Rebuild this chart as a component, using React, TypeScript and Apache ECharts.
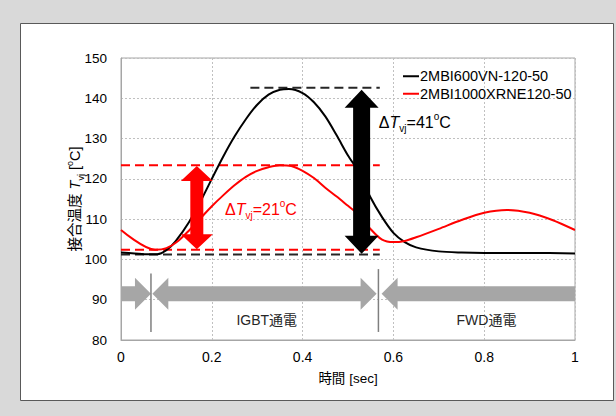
import React, { useEffect, useRef } from 'react';
import * as echarts from 'echarts';

const seriesNames = ['2MBI600VN-120-50', '2MBI1000XRNE120-50'];

const blackData: number[][] = [
  [0, 101.7], [0.03, 101.5], [0.06, 101.3], [0.08, 101.3], [0.1, 102.3], [0.12, 104.5],
  [0.15, 109.3], [0.18, 115.5], [0.2, 120], [0.225, 125.5], [0.25, 130.5], [0.275, 134.8],
  [0.3, 138.4], [0.325, 140.9], [0.35, 142.1], [0.37, 142.3], [0.4, 141.3], [0.425, 139.0],
  [0.45, 135.5], [0.475, 130.8], [0.5, 125.8], [0.525, 121.5], [0.55, 115.3], [0.575, 110.5],
  [0.6, 106.6], [0.625, 104.3], [0.65, 103.0], [0.7, 102.0], [0.75, 101.7], [0.8, 101.6],
  [0.9, 101.6], [1, 101.5],
];

const redData: number[][] = [
  [0, 107.3], [0.075, 102.4], [0.1, 102.8], [0.125, 104.5], [0.15, 107.2], [0.175, 110.2],
  [0.2, 113.2], [0.225, 115.9], [0.25, 118.4], [0.275, 120.5], [0.3, 122], [0.325, 122.9],
  [0.35, 123.4], [0.375, 123.2], [0.4, 122], [0.425, 120.2], [0.45, 117.8], [0.475, 115.6],
  [0.5, 113.3], [0.525, 111.0], [0.55, 107.5], [0.575, 104.9], [0.6, 104.3], [0.625, 104.6],
  [0.65, 105.5], [0.7, 107.6], [0.75, 109.8], [0.8, 111.6], [0.85, 112.3], [0.9, 111.6],
  [0.95, 109.8], [1, 107.3],
];

// dashed reference lines
const blackDashTop = [[0.285, 142.6], [0.57, 142.6]];
const redDashTop = [[0, 123.4], [0.57, 123.4]];
const redDashBottom = [[0, 102.4], [0.57, 102.4]];
const blackDashBottom = [[0, 101.2], [0.57, 101.2]];

// vertical double arrows: [x, yTop, yBottom]
const deltaArrows = [[0.167, 123.2, 102.5], [0.53, 142.1, 101.4]];
const deltaColors = ['#ff0000', '#000000'];
// delta labels: [x, y]
const deltaLabelPos = [[0.229, 112.3], [0.568, 133.9]];
const deltaValues = ['21', '41'];

// horizontal phase arrows: [xStart, xEnd, y, kind] kind 1=tip right, 2=both, 3=tip left
const phaseArrows = [[0, 0.066, 91.5, 1], [0.069, 0.563, 91.5, 2], [0.574, 1, 91.5, 3]];
// separators: [x, yTop, yBottom]
const separators = [[0.066, 96.5, 82], [0.567, 97.6, 82]];
// phase labels
const phaseLabelPos = [[0.321, 85], [0.805, 85]];
const phaseLabels = ['IGBT通電', 'FWD通電'];

const FONT = '"Liberation Sans", "Noto Sans CJK JP", Arial, sans-serif';

export default function App() {
  const ref = useRef<HTMLDivElement>(null);
  useEffect(() => {
    if (!ref.current) return;
    const chart = echarts.init(ref.current, undefined, { renderer: 'svg' });
    const dashLine = (data: number[][], color: string) => ({
      type: 'line',
      data,
      showSymbol: false,
      silent: true,
      z: 3,
      lineStyle: { color, width: 2, type: [9, 5] },
    });
    chart.setOption({
      animation: false,
      backgroundColor: '#d9d9d9',
      textStyle: { fontFamily: FONT },
      graphic: [
        {
          type: 'rect',
          z: -10,
          shape: { x: 20.5, y: 23.5, width: 593, height: 377 },
          style: { fill: '#ffffff', stroke: '#595959', lineWidth: 1 },
        },
      ],
      grid: {
        left: 121, right: 41, top: 58, bottom: 76,
        show: true, borderColor: '#a6a6a6', borderWidth: 1, backgroundColor: 'transparent',
      },
      legend: {
        orient: 'vertical',
        left: 398,
        top: 64,
        itemGap: 3,
        itemWidth: 16,
        itemHeight: 2,
        textStyle: { fontSize: 14.5, color: '#000', fontFamily: FONT, padding: [0, 0, 0, -4] },
        data: [
          { name: seriesNames[0], icon: 'rect' },
          { name: seriesNames[1], icon: 'rect' },
        ],
      },
      xAxis: {
        type: 'value', min: 0, max: 1, interval: 0.2,
        name: '時間 [sec]', nameLocation: 'middle', nameGap: 32,
        nameMoveOverlap: false,
        nameTextStyle: { fontSize: 13.5, color: '#000', fontFamily: FONT },
        axisLine: { show: true, lineStyle: { color: '#a6a6a6' } },
        axisTick: { show: false },
        axisLabel: { fontSize: 14, color: '#000', margin: 10, fontFamily: FONT },
        splitLine: { show: true, lineStyle: { color: '#c0c0c0', type: [2, 2] } },
      },
      yAxis: {
        type: 'value', min: 80, max: 150, interval: 10,
        name: '{n|接合温度 }{i|T}{s|vj}{n| [}{p|o}{n|C]}',
        nameLocation: 'middle', nameGap: 36,
        nameMoveOverlap: false,
        nameTextStyle: {
          fontSize: 14, color: '#000', fontFamily: FONT,
          rich: {
            n: { fontSize: 14.5, lineHeight: 20, fontFamily: FONT },
            i: { fontSize: 14.5, lineHeight: 20, fontStyle: 'italic', fontFamily: FONT },
            s: { fontSize: 9, lineHeight: 9, verticalAlign: 'bottom', fontFamily: FONT },
            p: { fontSize: 9, lineHeight: 9, verticalAlign: 'top', fontFamily: FONT },
          },
        },
        axisLine: { show: true, lineStyle: { color: '#a6a6a6' } },
        axisTick: { show: false },
        axisLabel: { fontSize: 13.5, color: '#000', margin: 14, fontFamily: FONT },
        splitLine: { show: true, lineStyle: { color: '#c0c0c0', type: [2, 2] } },
      },
      series: [
        {
          name: seriesNames[0], type: 'line', data: blackData, showSymbol: false,
          smooth: 0.3, z: 4, color: '#000000', lineStyle: { color: '#000000', width: 2 },
        },
        {
          name: seriesNames[1], type: 'line', data: redData, showSymbol: false,
          smooth: 0.3, z: 4, color: '#ff0000', lineStyle: { color: '#ff0000', width: 2 },
        },
        dashLine(blackDashTop, '#262626'),
        dashLine(redDashTop, '#ff0000'),
        dashLine(redDashBottom, '#ff0000'),
        dashLine(blackDashBottom, '#262626'),
        {
          type: 'custom', z: 6, silent: true,
          data: deltaArrows,
          encode: { x: 0, y: [1, 2] },
          renderItem: (params: any, api: any) => {
            const i = params.dataIndex;
            const t = api.coord([api.value(0), api.value(1)]);
            const b = api.coord([api.value(0), api.value(2)]);
            const cx = t[0];
            const sw = i === 0 ? 6.5 : 8.5;
            const hw = i === 0 ? 16 : 17;
            const hl = i === 0 ? 15 : 18;
            const yT = t[1];
            const yB = b[1];
            return {
              type: 'polygon',
              shape: {
                points: [
                  [cx, yT], [cx + hw, yT + hl], [cx + sw, yT + hl], [cx + sw, yB - hl],
                  [cx + hw, yB - hl], [cx, yB], [cx - hw, yB - hl], [cx - sw, yB - hl],
                  [cx - sw, yT + hl], [cx - hw, yT + hl],
                ],
              },
              style: { fill: deltaColors[i] },
            };
          },
        },
        {
          type: 'custom', z: 7, silent: true,
          data: deltaLabelPos,
          encode: { x: 0, y: 1 },
          renderItem: (params: any, api: any) => {
            const i = params.dataIndex;
            const p = api.coord([api.value(0), api.value(1)]);
            const c = deltaColors[i];
            return {
              type: 'text',
              x: p[0], y: p[1],
              style: {
                text: `{d|Δ}{i|T}{s|vj}{n|=${deltaValues[i]}}{p|o}{n|C}`,
                fill: c,
                align: 'left',
                verticalAlign: 'middle',
                rich: {
                  d: { fontSize: 16, lineHeight: 22, fill: c, fontFamily: FONT },
                  i: { fontSize: 16, lineHeight: 22, fill: c, fontStyle: 'italic', fontFamily: FONT },
                  s: { fontSize: 10, lineHeight: 10, fill: c, verticalAlign: 'bottom', fontFamily: FONT },
                  n: { fontSize: 16, lineHeight: 22, fill: c, fontFamily: FONT },
                  p: { fontSize: 10, lineHeight: 10, fill: c, verticalAlign: 'top', fontFamily: FONT },
                },
              },
            };
          },
        },
        {
          type: 'custom', z: 5, silent: true,
          data: phaseArrows,
          encode: { x: [0, 1], y: 2 },
          renderItem: (params: any, api: any) => {
            const a = api.coord([api.value(0), api.value(2)]);
            const b = api.coord([api.value(1), api.value(2)]);
            const kind = api.value(3);
            const y = a[1];
            const sh = 7.5, hh = 16, hl = 16;
            const x0 = a[0], x1 = b[0];
            let pts: number[][];
            if (kind === 1) {
              pts = [[x0, y - sh], [x1 - hl, y - sh], [x1 - hl, y - hh], [x1, y], [x1 - hl, y + hh], [x1 - hl, y + sh], [x0, y + sh]];
            } else if (kind === 3) {
              pts = [[x1, y - sh], [x0 + hl, y - sh], [x0 + hl, y - hh], [x0, y], [x0 + hl, y + hh], [x0 + hl, y + sh], [x1, y + sh]];
            } else {
              pts = [[x0, y], [x0 + hl, y - hh], [x0 + hl, y - sh], [x1 - hl, y - sh], [x1 - hl, y - hh], [x1, y],
                [x1 - hl, y + hh], [x1 - hl, y + sh], [x0 + hl, y + sh], [x0 + hl, y + hh]];
            }
            return { type: 'polygon', shape: { points: pts }, style: { fill: '#a6a6a6' } };
          },
        },
        {
          type: 'custom', z: 6, silent: true,
          data: separators,
          encode: { x: 0, y: [1, 2] },
          renderItem: (params: any, api: any) => {
            const t = api.coord([api.value(0), api.value(1)]);
            const b = api.coord([api.value(0), api.value(2)]);
            return {
              type: 'line',
              shape: { x1: t[0], y1: t[1], x2: b[0], y2: b[1] },
              style: { stroke: '#7f7f7f', lineWidth: 1.5 },
            };
          },
        },
        {
          type: 'custom', z: 6, silent: true,
          data: phaseLabelPos,
          encode: { x: 0, y: 1 },
          renderItem: (params: any, api: any) => {
            const p = api.coord([api.value(0), api.value(1)]);
            return {
              type: 'text',
              x: p[0], y: p[1],
              style: {
                text: phaseLabels[params.dataIndex],
                fill: '#262626',
                fontSize: 14,
                fontFamily: FONT,
                align: 'center',
                verticalAlign: 'middle',
              },
            };
          },
        },
      ],
    });
    return () => chart.dispose();
  }, []);
  return (
    <div
      ref={ref}
      style={{ position: 'absolute', left: 0, top: 0, width: 616, height: 416 }}
    />
  );
}
